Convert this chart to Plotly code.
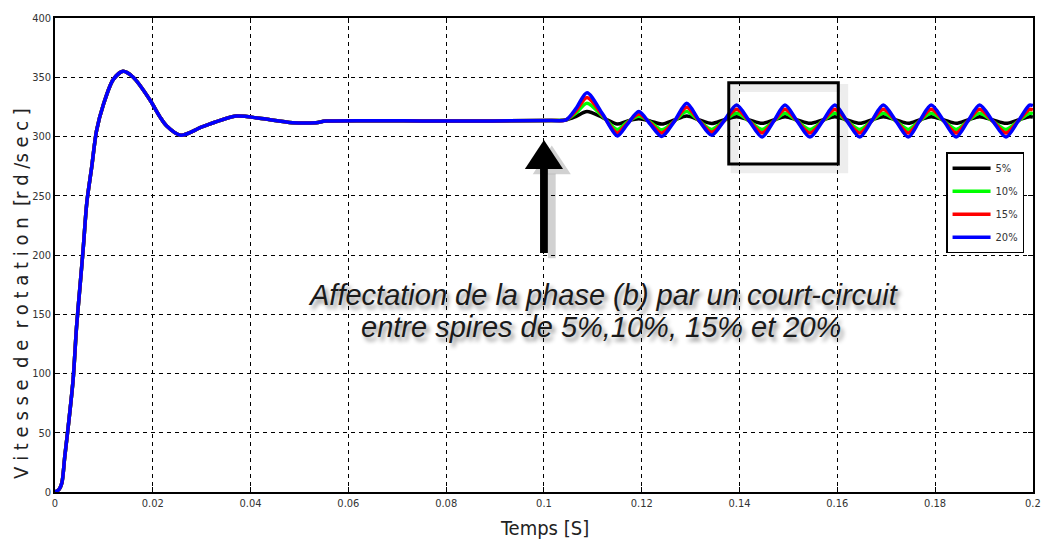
import plotly.graph_objects as go

# Speed response common to all cases before the inter-turn short circuit
t_start = [0, 0.0008, 0.0014, 0.002, 0.0027, 0.0037, 0.0044, 0.0051, 0.0058, 0.0065,
           0.0075, 0.0085, 0.0099, 0.0119, 0.0139, 0.016, 0.0194, 0.0214, 0.0228,
           0.0257, 0.0302, 0.0371, 0.0418, 0.0486, 0.0534, 0.0554, 0.08, 0.1014, 0.1045]
v_start = [0, 2, 7.6, 30, 55, 94.5, 139, 173, 207, 244,
           274, 305, 327, 348, 355, 350, 331, 317, 309,
           301, 308.3, 317.3, 315.4, 311.7, 311.7, 313, 313, 313.5, 314]

# Time instants after the fault (peaks, zero crossings, troughs)
t_fault = [0.1066, 0.1088, 0.112, 0.115, 0.117, 0.1194, 0.1218, 0.1241, 0.1267,
           0.1292, 0.1318, 0.1343, 0.1368, 0.1394, 0.142, 0.1446, 0.147, 0.1493,
           0.1518, 0.1544, 0.157, 0.1595, 0.162, 0.1646, 0.167, 0.1694, 0.172,
           0.1745, 0.1768, 0.1792, 0.1818, 0.1843, 0.1867, 0.1891, 0.1918, 0.1945,
           0.197, 0.1993, 0.2]

v_5 = [317, 321, 316, 310.5, 313, 315, 313, 310.5, 314,
       317.3, 314, 311, 314, 316.7, 314, 311.1, 314, 316.7,
       314, 311.1, 314, 316.7, 314, 311.1, 314, 316.7, 314,
       311.1, 314, 316.7, 314, 311.1, 314, 316.7, 314, 311.1,
       314, 316.7, 316.5]
v_10 = [320, 328, 317, 306, 312, 317, 312, 305.6, 313,
        321, 313, 306, 313, 319.6, 313, 306, 313, 319.6,
        313, 306, 313, 319.6, 313, 306, 313, 319.6, 313,
        306, 313, 319.6, 313, 306, 313, 319.6, 313, 306,
        313, 319.6, 319.3]
v_15 = [322, 333, 318, 303, 311, 319, 311, 303, 313,
        324.6, 313, 303.6, 313, 323, 313, 303, 313, 323,
        313, 303, 313, 323, 313, 303, 313, 323, 313,
        303, 313, 323, 313, 303, 313, 323, 313, 303,
        313, 323, 322.5]
v_20 = [324, 337, 319, 300.5, 310, 321, 310, 300, 313,
        328, 313, 301, 313, 326.5, 313, 299.5, 313, 326.5,
        313, 299.5, 313, 326.5, 313, 299.5, 313, 326.5, 313,
        299.5, 313, 326.5, 313, 299.5, 313, 326.5, 313, 299.5,
        313, 326.5, 326]

series_names = ["5%", "10%", "15%", "20%"]
series_values = [v_5, v_10, v_15, v_20]
series_colors = ["#000000", "#00ff00", "#ff0000", "#0000ff"]

x_ticks = [0, 0.02, 0.04, 0.06, 0.08, 0.1, 0.12, 0.14, 0.16, 0.18, 0.2]
y_ticks = [0, 50, 100, 150, 200, 250, 300, 350, 400]

NARROW = "DejaVu Sans Condensed, Liberation Sans Narrow, Arial Narrow, Arial, sans-serif"

fig = go.Figure()
for i, (name, vals, col) in enumerate(zip(series_names, series_values, series_colors)):
    fig.add_trace(go.Scatter(
        x=t_start + t_fault, y=v_start + vals, name=name, mode="lines",
        line=dict(color=col, width=3.5, shape="spline", smoothing=0.8),
        legendgroup=f"g{i}",
    ))

axis_common = dict(
    showline=True, linecolor="black", linewidth=1.5, mirror="ticks",
    ticks="inside", ticklen=5, tickcolor="black", tickwidth=1,
    showgrid=True, gridcolor="black", gridwidth=1, griddash="4px,4px",
    zeroline=False, ticklabeloverflow="allow", automargin=False,
    tickfont=dict(family=NARROW, size=11, color="#333"),
)

fig.update_xaxes(range=[0, 0.20002], tickvals=x_ticks,
                 ticktext=[f"{v:g}" for v in x_ticks], **axis_common)
fig.update_yaxes(range=[0, 400], tickvals=y_ticks,
                 ticktext=[str(v) for v in y_ticks], **axis_common)

# Zoom box around the steady oscillation, with a soft drop shadow
box = dict(x0=0.1378, x1=0.1602, y0=276.8, y1=345.4)
fig.add_shape(type="rect", xref="x", yref="y",
              x0=box["x0"] + 0.0012, x1=box["x1"] + 0.0012,
              y0=box["y0"] - 4.5, y1=box["y1"] - 4.5,
              line=dict(color="rgba(0,0,0,0.07)", width=8), layer="above")
fig.add_shape(type="rect", xref="x", yref="y", **box,
              line=dict(color="black", width=3), layer="above")

# Arrow pointing at the fault instant (shadow first, then the arrow)
arrow_x = 0.1
tip, base, tail = 297, 272.6, 201.7
head_hw, shaft_hw = 0.0039, 0.0008
for dx, dy, col in [(0.0016, -4.5, "rgba(0,0,0,0.18)"), (0, 0, "black")]:
    fig.add_shape(type="path", xref="x", yref="y", layer="above",
                  path=(f"M {arrow_x - head_hw + dx} {base + dy} "
                        f"L {arrow_x + dx} {tip + dy} "
                        f"L {arrow_x + head_hw + dx} {base + dy} Z"),
                  fillcolor=col, line=dict(width=0))
    fig.add_shape(type="rect", xref="x", yref="y", layer="above",
                  x0=arrow_x - shaft_hw + dx, x1=arrow_x + shaft_hw + dx,
                  y0=tail + dy, y1=base + dy + 0.5,
                  fillcolor=col, line=dict(width=0))

note_font = dict(family="Liberation Sans, Arial, sans-serif", size=29, color="#1a1a1a",
                 style="italic", shadow="3px 4px 4px rgba(0,0,0,0.45)")
fig.add_annotation(
    x=0.5608, y=0.416, xref="paper", yref="paper", showarrow=False,
    xanchor="center", yanchor="middle",
    text="Affectation de la phase (b) par un court-circuit", font=note_font,
)
fig.add_annotation(
    x=0.5583, y=0.349, xref="paper", yref="paper", showarrow=False,
    xanchor="center", yanchor="middle",
    text="entre spires de 5%,10%, 15% et 20%", font=note_font,
)

# Axis titles
fig.add_annotation(
    x=-0.0348, y=0.42, xref="paper", yref="paper", showarrow=False, textangle=-90,
    xanchor="center", yanchor="middle",
    text="V i t e s s e  d e  r o t a t i o n  [r d /s e c ]",
    font=dict(family=NARROW, size=20, color="#222"),
)
fig.add_annotation(
    x=0.501, y=-0.075, xref="paper", yref="paper", showarrow=False,
    text="Temps [S]", xanchor="center", yanchor="middle",
    font=dict(family=NARROW, size=20, color="#222"),
)

fig.update_layout(
    width=1041, height=545,
    margin=dict(l=55, r=8, t=18, b=53, autoexpand=False),
    paper_bgcolor="white", plot_bgcolor="white",
    showlegend=True,
    legend=dict(
        x=0.9111, y=0.717, xanchor="left", yanchor="top",
        bgcolor="white", bordercolor="black", borderwidth=1.5,
        font=dict(family=NARROW, size=11, color="#333"),
        tracegroupgap=4, itemwidth=38,
    ),
)

fig.write_html("out.html")
